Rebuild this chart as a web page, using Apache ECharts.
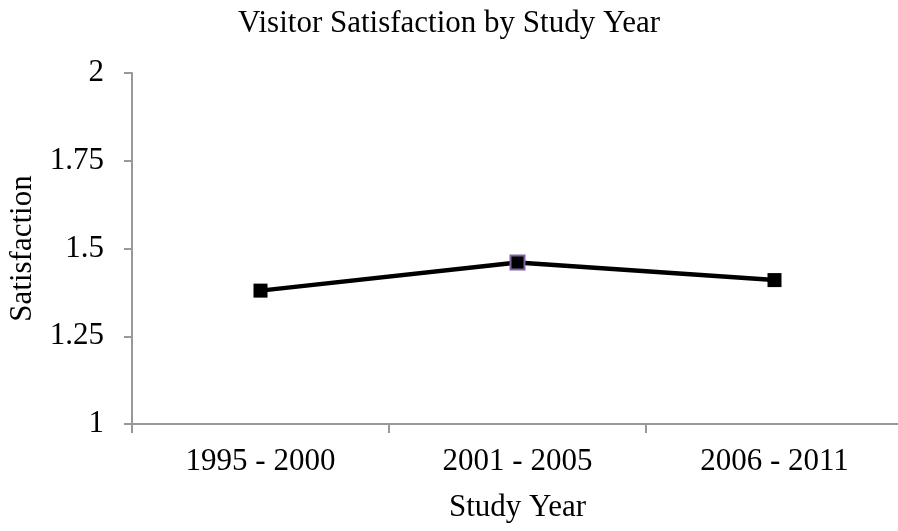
<!DOCTYPE html>
<html>
<head>
<meta charset="utf-8">
<script src="https://cdn.jsdelivr.net/npm/echarts@6/dist/echarts.min.js"></script>
<style>
  html, body { margin: 0; padding: 0; background: #fff; }
  #chart { width: 898px; height: 531px; }
</style>
</head>
<body>
<div id="chart"></div>
<script>
// Study periods and mean satisfaction scores
const studyYears = ['1995 - 2000', '2001 - 2005', '2006 - 2011'];
const satisfaction = [1.38, 1.46, 1.41];
const yTicks = [1, 1.25, 1.5, 1.75, 2];

const serif = '"Liberation Serif", "Times New Roman", serif';
const chart = echarts.init(document.getElementById('chart'));

const points = satisfaction.map((v, i) => ({
  value: v,
  itemStyle: i === 1 ? { color: '#000', borderColor: '#8064A2', borderWidth: 2 } : { color: '#000' }
}));

chart.setOption({
  animation: false,
  backgroundColor: '#fff',
  title: {
    text: 'Visitor Satisfaction by Study Year',
    left: 'center',
    top: 3,
    textStyle: { fontFamily: serif, fontSize: 31, fontWeight: 'normal', color: '#000' }
  },
  grid: {
    left: 132, width: 771, top: 73, height: 351,
    containLabel: false,
    outerBoundsMode: 'none'
  },
  xAxis: {
    type: 'category',
    data: studyYears,
    boundaryGap: true,
    name: 'Study Year',
    nameLocation: 'middle',
    nameGap: 68,
    nameTextStyle: { fontFamily: serif, fontSize: 31, color: '#000' },
    axisLine: { lineStyle: { color: '#999', width: 2 } },
    axisTick: { show: true, length: 9, lineStyle: { color: '#999', width: 2 } },
    axisLabel: { fontFamily: serif, fontSize: 31, color: '#000', margin: 22 },
    splitLine: { show: false }
  },
  yAxis: {
    type: 'value',
    min: 1,
    max: 2,
    interval: 0.25,
    name: 'Satisfaction',
    nameLocation: 'middle',
    nameGap: 93,
    nameTextStyle: { fontFamily: serif, fontSize: 31, color: '#000' },
    axisLine: { show: true, lineStyle: { color: '#999', width: 2 } },
    axisTick: { show: true, length: 8, lineStyle: { color: '#999', width: 2 } },
    axisLabel: {
      fontFamily: serif, fontSize: 31, color: '#000', margin: 28,
      formatter: v => (yTicks.includes(v) ? String(v) : '')
    },
    splitLine: { show: false }
  },
  series: [{
    type: 'line',
    data: points,
    symbol: 'rect',
    symbolSize: 14,
    lineStyle: { color: '#000', width: 4.5 },
    itemStyle: { color: '#000' }
  }]
});
</script>
</body>
</html>
